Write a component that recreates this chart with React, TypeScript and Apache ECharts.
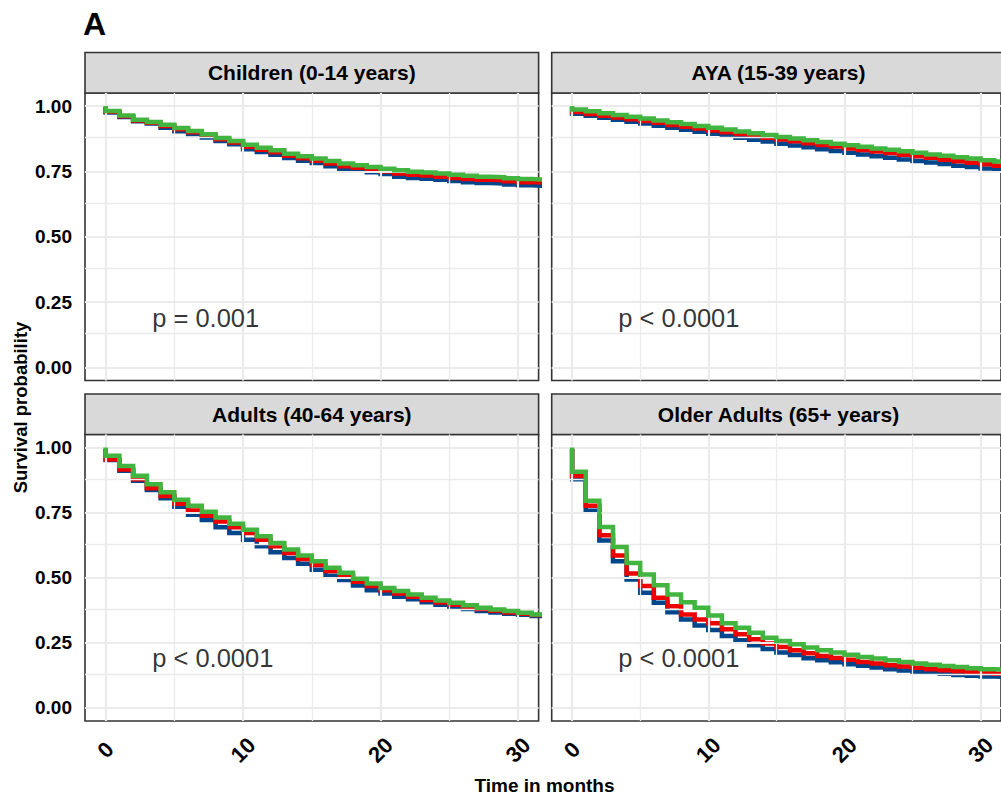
import React, { useEffect, useRef } from "react";
import * as echarts from "echarts";

// ---------------- data ----------------
const PANEL_TITLES = [
  "Children (0-14 years)",
  "AYA (15-39 years)",
  "Adults (40-64 years)",
  "Older Adults (65+ years)",
];
const P_VALUES = ["p = 0.001", "p < 0.0001", "p < 0.0001", "p < 0.0001"];

const X_TICKS = [0, 10, 20, 30];
const X_MINOR = [5, 15, 25];
const Y_TICKS = [0, 0.25, 0.5, 0.75, 1];
const Y_MINOR = [0.125, 0.375, 0.625, 0.875];

// months (start of each step)
const MONTHS = [0, 1, 2, 3, 4, 5, 6, 7, 8, 9, 10, 11, 12, 13, 14, 15, 16, 17, 18, 19, 20, 21, 22, 23, 24, 25, 26, 27, 28, 29, 30, 31, 32];

// survival probability held from month m to m+1 (groups: blue, red, green)
const CHILDREN_BLUE = [0.975, 0.958, 0.942, 0.933, 0.917, 0.904, 0.893, 0.88, 0.866, 0.854, 0.835, 0.824, 0.814, 0.801, 0.791, 0.782, 0.77, 0.76, 0.754, 0.747, 0.74, 0.73, 0.725, 0.722, 0.718, 0.713, 0.709, 0.706, 0.704, 0.7, 0.697, 0.695, 0.693];
const CHILDREN_RED = [0.978, 0.961, 0.945, 0.936, 0.924, 0.911, 0.9, 0.887, 0.873, 0.861, 0.844, 0.833, 0.823, 0.81, 0.8, 0.791, 0.78, 0.77, 0.764, 0.757, 0.75, 0.742, 0.737, 0.734, 0.73, 0.725, 0.721, 0.718, 0.716, 0.712, 0.709, 0.707, 0.705];
const CHILDREN_GREEN = [0.981, 0.964, 0.948, 0.939, 0.929, 0.916, 0.905, 0.892, 0.878, 0.866, 0.852, 0.841, 0.831, 0.818, 0.808, 0.799, 0.79, 0.78, 0.774, 0.767, 0.76, 0.754, 0.749, 0.746, 0.742, 0.737, 0.733, 0.73, 0.728, 0.724, 0.721, 0.719, 0.717];

const AYA_BLUE = [0.971, 0.963, 0.955, 0.948, 0.94, 0.933, 0.925, 0.917, 0.909, 0.902, 0.894, 0.886, 0.879, 0.871, 0.864, 0.856, 0.849, 0.842, 0.835, 0.828, 0.821, 0.815, 0.808, 0.802, 0.796, 0.79, 0.784, 0.778, 0.772, 0.767, 0.761, 0.756, 0.751];
const AYA_RED = [0.977, 0.97, 0.963, 0.956, 0.95, 0.943, 0.936, 0.928, 0.921, 0.914, 0.907, 0.9, 0.893, 0.886, 0.879, 0.872, 0.865, 0.858, 0.851, 0.845, 0.838, 0.832, 0.826, 0.82, 0.814, 0.808, 0.802, 0.795, 0.789, 0.783, 0.777, 0.772, 0.767];
const AYA_GREEN = [0.987, 0.98, 0.973, 0.966, 0.959, 0.952, 0.945, 0.938, 0.931, 0.924, 0.917, 0.91, 0.903, 0.896, 0.889, 0.882, 0.876, 0.869, 0.863, 0.856, 0.85, 0.844, 0.838, 0.833, 0.827, 0.821, 0.815, 0.81, 0.804, 0.799, 0.793, 0.788, 0.783];

const ADULTS_BLUE = [0.952, 0.911, 0.872, 0.837, 0.805, 0.773, 0.742, 0.722, 0.694, 0.672, 0.646, 0.621, 0.598, 0.576, 0.554, 0.531, 0.508, 0.491, 0.47, 0.452, 0.44, 0.427, 0.417, 0.406, 0.396, 0.389, 0.38, 0.372, 0.367, 0.362, 0.358, 0.353, 0.349];
const ADULTS_RED = [0.954, 0.916, 0.878, 0.844, 0.814, 0.784, 0.758, 0.738, 0.716, 0.694, 0.672, 0.646, 0.621, 0.595, 0.572, 0.549, 0.526, 0.506, 0.485, 0.468, 0.452, 0.44, 0.427, 0.415, 0.405, 0.396, 0.387, 0.38, 0.373, 0.367, 0.362, 0.357, 0.352];
const ADULTS_GREEN = [0.968, 0.929, 0.892, 0.859, 0.828, 0.799, 0.776, 0.753, 0.731, 0.707, 0.684, 0.659, 0.633, 0.608, 0.585, 0.563, 0.538, 0.519, 0.496, 0.478, 0.461, 0.449, 0.436, 0.423, 0.413, 0.404, 0.394, 0.385, 0.378, 0.372, 0.366, 0.359, 0.354];

const OLDER_BLUE = [0.878, 0.757, 0.643, 0.563, 0.493, 0.442, 0.404, 0.368, 0.34, 0.317, 0.299, 0.276, 0.26, 0.241, 0.226, 0.213, 0.203, 0.191, 0.183, 0.176, 0.168, 0.162, 0.155, 0.149, 0.144, 0.139, 0.135, 0.131, 0.127, 0.124, 0.121, 0.119, 0.117];
const OLDER_RED = [0.891, 0.776, 0.663, 0.585, 0.516, 0.468, 0.423, 0.391, 0.359, 0.34, 0.325, 0.302, 0.283, 0.264, 0.248, 0.234, 0.222, 0.21, 0.2, 0.192, 0.185, 0.177, 0.171, 0.164, 0.159, 0.154, 0.149, 0.145, 0.141, 0.138, 0.134, 0.131, 0.129];
const OLDER_GREEN = [0.907, 0.796, 0.695, 0.618, 0.557, 0.512, 0.471, 0.436, 0.406, 0.385, 0.355, 0.325, 0.308, 0.289, 0.27, 0.257, 0.245, 0.232, 0.222, 0.213, 0.204, 0.196, 0.19, 0.183, 0.177, 0.171, 0.166, 0.161, 0.157, 0.153, 0.149, 0.147, 0.145];

const PANEL_SERIES = [
  [CHILDREN_BLUE, CHILDREN_RED, CHILDREN_GREEN],
  [AYA_BLUE, AYA_RED, AYA_GREEN],
  [ADULTS_BLUE, ADULTS_RED, ADULTS_GREEN],
  [OLDER_BLUE, OLDER_RED, OLDER_GREEN],
];

// ---------------- styling ----------------
const COLORS = ["#00468B", "#ED0000", "#42B540"];
const FONT = "'Liberation Sans', Arial, Helvetica, sans-serif";
const GRID_COLOR = "#EBEBEB";
const DARK = "#333333";

const PANEL_LEFT = [85, 551.7, 85, 551.7];
const PANEL_TOP = [93, 93, 434.5, 434.5];
const PANEL_W = 453.6;
const PANEL_H = [287.5, 287.5, 286.5, 286.5];
const STRIP_H = 40.5;

function buildOption() {
  const grids = [0, 1, 2, 3].map((i) => ({
    left: PANEL_LEFT[i],
    top: PANEL_TOP[i],
    width: PANEL_W,
    height: PANEL_H[i],
    show: true,
    borderColor: DARK,
    borderWidth: 1.6,
    backgroundColor: "#ffffff",
    containLabel: false,
  }));

  const xAxes = [0, 1, 2, 3].map((i) => {
    const bottom = i >= 2;
    return {
      type: "value",
      gridIndex: i,
      min: -1.5,
      max: 31.5,
      show: bottom,
      axisLine: { show: false },
      splitLine: { show: false },
      minorSplitLine: { show: false },
      axisTick: {
        show: bottom,
        customValues: X_TICKS,
        length: 6,
        lineStyle: { color: DARK, width: 1.6 },
      },
      axisLabel: {
        show: bottom,
        customValues: X_TICKS,
        rotate: 45,
        align: "center",
        verticalAlign: "middle",
        margin: 29,
        fontSize: 22,
        fontWeight: "bold",
        color: "#000",
        fontFamily: FONT,
      },
    };
  });

  const yAxes = [0, 1, 2, 3].map((i) => {
    const left = i % 2 === 0;
    return {
      type: "value",
      gridIndex: i,
      min: -0.05,
      max: 1.05,
      show: left,
      axisLine: { show: false },
      splitLine: { show: false },
      axisTick: {
        show: left,
        customValues: Y_TICKS,
        length: 6,
        lineStyle: { color: DARK, width: 1.6 },
      },
      axisLabel: {
        show: left,
        customValues: Y_TICKS,
        formatter: (v: number) => v.toFixed(2),
        margin: 13,
        fontSize: 19,
        fontWeight: "bold",
        color: "#000",
        fontFamily: FONT,
      },
    };
  });

  const series: any[] = [];
  for (let p = 0; p < 4; p++) {
    // background grid lines
    const gl: any[] = [];
    X_TICKS.forEach((v) => gl.push({ xAxis: v, lineStyle: { width: 2.2 } }));
    X_MINOR.forEach((v) => gl.push({ xAxis: v, lineStyle: { width: 1.3 } }));
    Y_TICKS.forEach((v) => gl.push({ yAxis: v, lineStyle: { width: 2.2 } }));
    Y_MINOR.forEach((v) => gl.push({ yAxis: v, lineStyle: { width: 1.3 } }));
    series.push({
      type: "line",
      xAxisIndex: p,
      yAxisIndex: p,
      data: [],
      z: 1,
      silent: true,
      markLine: {
        silent: true,
        symbol: ["none", "none"],
        label: { show: false },
        lineStyle: { color: GRID_COLOR, type: "solid" },
        data: gl,
        animation: false,
      },
    });

    PANEL_SERIES[p].forEach((vals, g) => {
      const data: number[][] = [[0, 1]];
      vals.forEach((v, k) => data.push([MONTHS[k], v]));
      series.push({
        type: "line",
        xAxisIndex: p,
        yAxisIndex: p,
        step: "end",
        symbol: "none",
        showSymbol: false,
        silent: true,
        clip: true,
        z: 3 + g,
        data,
        lineStyle: { color: COLORS[g], width: 4.5, cap: "butt", join: "miter" },
        itemStyle: { color: COLORS[g] },
      });
    });

    // p-value annotation
    series.push({
      type: "scatter",
      xAxisIndex: p,
      yAxisIndex: p,
      data: [[3.35, 0.19]],
      symbolSize: 1,
      silent: true,
      z: 10,
      itemStyle: { color: "rgba(0,0,0,0)" },
      label: {
        show: true,
        position: "right",
        distance: 0,
        formatter: P_VALUES[p],
        fontSize: 25.5,
        color: "#000",
        fontFamily: FONT,
      },
    });
  }

  const graphic: any[] = [];
  // strips
  for (let p = 0; p < 4; p++) {
    const sy = PANEL_TOP[p] - STRIP_H;
    graphic.push({
      type: "rect",
      shape: { x: PANEL_LEFT[p], y: sy, width: PANEL_W, height: STRIP_H },
      style: { fill: "#D9D9D9", stroke: DARK, lineWidth: 1.6 },
      z: 5,
    });
    graphic.push({
      type: "text",
      x: PANEL_LEFT[p] + PANEL_W / 2,
      y: sy + STRIP_H / 2,
      style: {
        text: PANEL_TITLES[p],
        fill: "#000",
        font: `bold 21px ${FONT}`,
        textAlign: "center",
        textVerticalAlign: "middle",
      },
      z: 6,
    });
  }
  graphic.push({
    type: "text",
    x: 83,
    y: 24,
    style: {
      text: "A",
      fill: "#000",
      font: `bold 32px ${FONT}`,
      textAlign: "left",
      textVerticalAlign: "middle",
    },
  });
  graphic.push({
    type: "text",
    x: 544.5,
    y: 785,
    style: {
      text: "Time in months",
      fill: "#000",
      font: `bold 19px ${FONT}`,
      textAlign: "center",
      textVerticalAlign: "middle",
    },
  });
  graphic.push({
    type: "text",
    x: 20.5,
    y: 407.5,
    rotation: Math.PI / 2,
    style: {
      text: "Survival probability",
      fill: "#000",
      font: `bold 18.5px ${FONT}`,
      textAlign: "center",
      textVerticalAlign: "middle",
    },
  });

  return {
    animation: false,
    backgroundColor: "#ffffff",
    textStyle: { fontFamily: FONT },
    grid: grids,
    xAxis: xAxes,
    yAxis: yAxes,
    series,
    graphic,
  };
}

export default function App() {
  const ref = useRef<HTMLDivElement>(null);
  useEffect(() => {
    if (!ref.current) return;
    const chart = echarts.init(ref.current, undefined, { renderer: "svg" });
    chart.setOption(buildOption() as any);
    return () => chart.dispose();
  }, []);
  return (
    <div
      ref={ref}
      style={{ position: "fixed", left: 0, top: 0, width: 1001, height: 800, background: "#fff" }}
    />
  );
}
